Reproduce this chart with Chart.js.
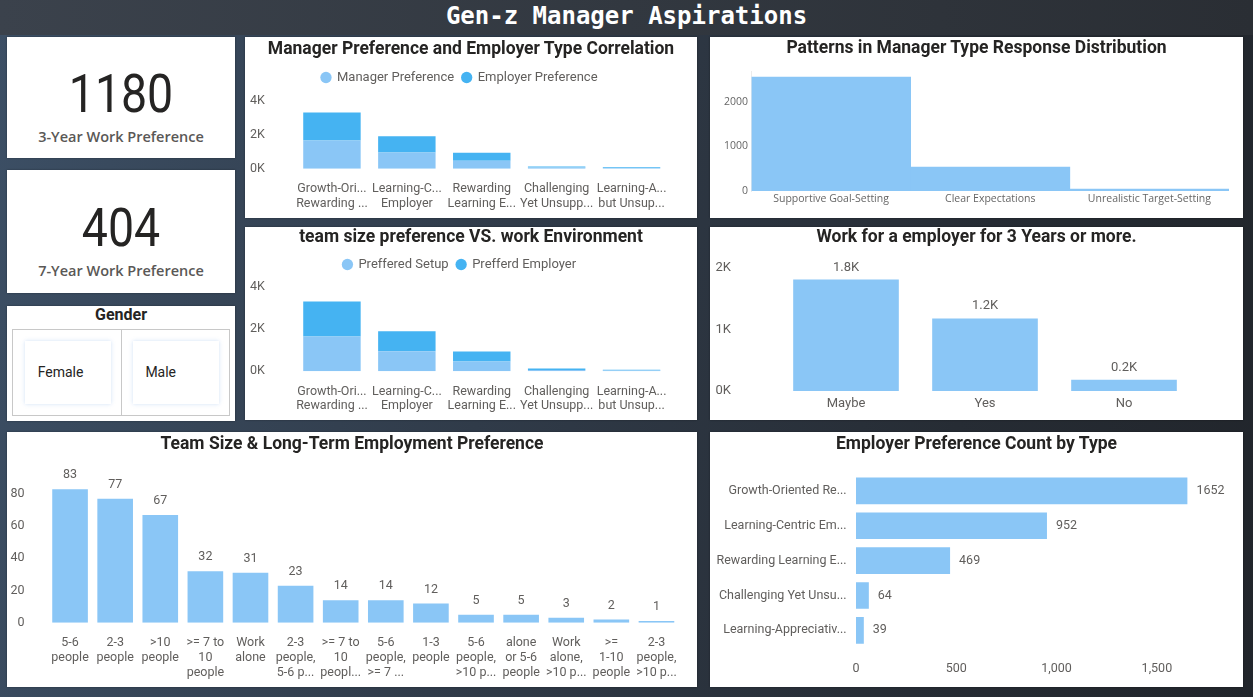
<!DOCTYPE html>
<html><head><meta charset="utf-8">
<script src="https://cdn.jsdelivr.net/npm/chart.js@4.4.1/dist/chart.umd.min.js"></script>
<style>
html,body{margin:0;padding:0;width:1253px;height:697px;overflow:hidden;}
body{position:relative;background:linear-gradient(100deg,#3c4f65 0%,#303b49 40%,#262c34 75%,#21252b 100%);font-family:Roboto,sans-serif;}
#hdr{position:absolute;left:0;top:0;width:1253px;height:35px;background:linear-gradient(90deg,#3b424c 0%,#323840 50%,#2a2e34 100%);}
#hdr div{position:absolute;left:0;top:0;width:1253px;text-align:center;font:bold 24px 'DejaVu Sans Mono',monospace;color:#fff;line-height:32px;}
.panel{position:absolute;background:#fff;box-shadow:0 0 2px rgba(0,0,0,.35);}
.ttl{position:absolute;left:0;width:100%;text-align:center;font-weight:bold;font-size:17.5px;font-family:Roboto,sans-serif;color:#252423;line-height:20px;white-space:nowrap;}
canvas{position:absolute;left:0;top:0;}
.num{position:absolute;left:0;width:100%;text-align:center;font-family:Roboto,sans-serif;font-size:54px;line-height:60px;color:#252423;transform:scaleX(0.86);}
.lbl{position:absolute;left:0;width:100%;text-align:center;font-family:'Open Sans',sans-serif;font-weight:600;font-size:14.5px;line-height:20px;color:#5a5856;}
.gbox{position:absolute;left:4.7px;top:23.3px;width:216px;height:85px;border:1px solid #c8c8c8;}
.gdiv{position:absolute;left:108px;top:0;width:1px;height:100%;background:#c8c8c8;}
.tile{position:absolute;top:11px;width:86px;height:63px;background:#fff;box-shadow:0 0 4px rgba(120,170,230,.35);}
.tile span{position:absolute;left:12.7px;top:21px;font-family:Roboto,sans-serif;font-size:14px;line-height:20px;color:#252423;}
</style></head>
<body>
<div id="hdr"><div>Gen-z Manager Aspirations</div></div>

<div class="panel" style="left:7px;top:37px;width:228px;height:121px;">
  <div class="num" style="top:26.7px;">1180</div>
  <div class="lbl" style="top:89.7px;">3-Year Work Preference</div>
</div>
<div class="panel" style="left:7px;top:170px;width:228px;height:123px;">
  <div class="num" style="top:28px;">404</div>
  <div class="lbl" style="top:90.7px;">7-Year Work Preference</div>
</div>
<div class="panel" style="left:7px;top:306px;width:228px;height:115px;">
  <div class="ttl" style="top:-1px;font-size:16px;">Gender</div>
  <div class="gbox">
    <div class="gdiv"></div>
    <div class="tile" style="left:12.3px;"><span>Female</span></div>
    <div class="tile" style="left:120px;"><span>Male</span></div>
  </div>
</div>

<div class="panel" style="left:245px;top:37px;width:452px;height:181px;">
  <canvas id="cA" width="452" height="181"></canvas>
  <div class="ttl" style="top:1px;">Manager Preference and Employer Type Correlation</div>
</div>
<div class="panel" style="left:245px;top:227px;width:452px;height:193px;">
  <canvas id="cB" width="452" height="193"></canvas>
  <div class="ttl" style="top:-1px;">team size preference VS. work Environment</div>
</div>
<div class="panel" style="left:710px;top:37px;width:533px;height:181px;">
  <canvas id="cC" width="533" height="181"></canvas>
  <div class="ttl" style="top:0.3px;">Patterns in Manager Type Response Distribution</div>
</div>
<div class="panel" style="left:710px;top:227px;width:533px;height:193px;">
  <canvas id="cD" width="533" height="193"></canvas>
  <div class="ttl" style="top:-1px;">Work for a employer for 3 Years or more.</div>
</div>
<div class="panel" style="left:7px;top:432px;width:690px;height:255px;">
  <canvas id="cE" width="690" height="255"></canvas>
  <div class="ttl" style="top:0.7px;">Team Size &amp; Long-Term Employment Preference</div>
</div>
<div class="panel" style="left:710px;top:432px;width:533px;height:255px;">
  <canvas id="cF" width="533" height="255"></canvas>
  <div class="ttl" style="top:0.7px;">Employer Preference Count by Type</div>
</div>

<script>
// ---------------- DATA ----------------
const employerTypeShort = [["Growth-Ori...","Rewarding ..."],["Learning-C...","Employer"],["Rewarding","Learning E..."],["Challenging","Yet Unsupp..."],["Learning-A...","but Unsup..."]];
const managerPreference = [1652, 952, 469, 64, 39];
const employerPreference = [1652, 952, 469, 64, 39];
const preferredSetup = [1652, 952, 469, 64, 39];
const preferredEmployer = [1652, 952, 469, 64, 39];

const managerTypes = ["Supportive Goal-Setting", "Clear Expectations", "Unrealistic Target-Setting"];
const managerTypeCounts = [2562, 539, 45];

const workAnswers = ["Maybe", "Yes", "No"];
const workCounts = [1812, 1180, 184];

const teamSizes = [["5-6","people"],["2-3","people"],[">10","people"],[">= 7 to","10","people"],["Work","alone"],["2-3","people,","5-6 p..."],[">= 7 to","10","peopl..."],["5-6","people,",">= 7 ..."],["1-3","people"],["5-6","people,",">10 p..."],["alone","or 5-6","people"],["Work","alone,",">10 p..."],[">=","1-10","people"],["2-3","people,",">10 p..."]];
const teamCounts = [83, 77, 67, 32, 31, 23, 14, 14, 12, 5, 5, 3, 2, 1];

const employerTypes = ["Growth-Oriented Re...", "Learning-Centric Em...", "Rewarding Learning E...", "Challenging Yet Unsu...", "Learning-Appreciativ..."];
const employerCounts = [1652, 952, 469, 64, 39];

const kTicks = [0, 2000, 4000];
const managerTypeTicks = [0, 1000, 2000];
const workTicks = [0, 1000, 2000];
const teamTicks = [0, 20, 40, 60, 80];
const employerCountTicks = [0, 500, 1000, 1500];

// ---------------- STYLE ----------------
const FONT = "Roboto, sans-serif";
const LIGHT = '#8ac6f6';
const DARK = '#45b3f2';
const TXT = '#605e5c';
Chart.defaults.font.family = FONT;
Chart.defaults.color = TXT;
Chart.defaults.animation = false;

function valueLabels(fmt, offset, size, horizontal) {
  return {
    id: 'valueLabels',
    afterDatasetsDraw(chart) {
      const ctx = chart.ctx;
      const meta = chart.getDatasetMeta(0);
      const data = chart.data.datasets[0].data;
      ctx.save();
      ctx.font = size + 'px ' + FONT;
      ctx.fillStyle = TXT;
      ctx.textBaseline = 'middle';
      meta.data.forEach((bar, i) => {
        const t = fmt(data[i]);
        if (horizontal) { ctx.textAlign = 'left'; ctx.fillText(t, bar.x + offset, bar.y); }
        else { ctx.textAlign = 'center'; ctx.fillText(t, bar.x, bar.y - offset); }
      });
      ctx.restore();
    }
  };
}
const fitW = w => (s => { s.width = w; });
const fitH = h => (s => { s.height = h; });
const useTicks = arr => (s => { s.ticks = arr.map(v => ({ value: v })); });
const noGrid = { display: false, drawTicks: false };
const noBorder = { display: false };

function stackedChart(id, labels, a, b, nameA, nameB, padTop, yMax, xH) {
  return new Chart(document.getElementById(id), {
    type: 'bar',
    data: { labels, datasets: [
      { label: nameA, data: a, backgroundColor: LIGHT, categoryPercentage: 1, barPercentage: 0.767 },
      { label: nameB, data: b, backgroundColor: DARK, categoryPercentage: 1, barPercentage: 0.767 }
    ]},
    options: {
      responsive: false, devicePixelRatio: 1,
      layout: { padding: { left: 5, right: 28, top: padTop, bottom: 0 } },
      plugins: {
        legend: { display: true, position: 'top', labels: { usePointStyle: true, pointStyle: 'circle', boxWidth: 9, boxHeight: 8, padding: 8, color: TXT, font: { size: 13, family: FONT } } },
        tooltip: { enabled: false }
      },
      scales: {
        x: { stacked: true, grid: noGrid, border: noBorder, afterFit: fitH(xH),
             ticks: { autoSkip: false, maxRotation: 0, minRotation: 0, padding: 13, font: { size: 12.5, lineHeight: 1.16 } } },
        y: { stacked: true, min: 0, max: yMax, grid: noGrid, border: noBorder, afterFit: fitW(44.5),
             afterBuildTicks: useTicks(kTicks),
             ticks: { crossAlign: 'far', padding: 0, font: { size: 12.5 }, callback: v => (v / 1000) + 'K' } }
      }
    }
  });
}

stackedChart('cA', employerTypeShort, managerPreference, employerPreference, 'Manager Preference', 'Employer Preference', 26, 4388, 49.3);
stackedChart('cB', employerTypeShort, preferredSetup, preferredEmployer, 'Preffered Setup', 'Prefferd Employer', 23, 4281, 48.7);

// C: manager type distribution
new Chart(document.getElementById('cC'), {
  type: 'bar',
  data: { labels: managerTypes, datasets: [{ data: managerTypeCounts, backgroundColor: LIGHT, categoryPercentage: 1, barPercentage: 1 }] },
  options: {
    responsive: false, devicePixelRatio: 1,
    layout: { padding: { left: 0, right: 14, top: 34.3, bottom: 0 } },
    plugins: { legend: { display: false }, tooltip: { enabled: false } },
    scales: {
      x: { grid: noGrid, border: noBorder, afterFit: fitH(27),
           ticks: { autoSkip: false, maxRotation: 0, padding: 1.5, color: '#666', font: { size: 10.5, family: "'Open Sans', sans-serif" } } },
      y: { min: 0, max: 2690, grid: noGrid, border: { display: true, color: '#ececec' }, afterFit: fitW(41.5),
           afterBuildTicks: useTicks(managerTypeTicks),
           ticks: { autoSkip: false, padding: 3.5, color: '#666', font: { size: 10.5, family: "'Open Sans', sans-serif" }, callback: v => String(v) } }
    }
  }
});

// D: work for employer 3 years
new Chart(document.getElementById('cD'), {
  type: 'bar',
  data: { labels: workAnswers, datasets: [{ data: workCounts, backgroundColor: LIGHT, categoryPercentage: 1, barPercentage: 0.76 }] },
  plugins: [valueLabels(v => (v / 1000).toFixed(1) + 'K', 12.3, 13, false)],
  options: {
    responsive: false, devicePixelRatio: 1,
    layout: { padding: { left: 5.5, right: 49.5, top: 41, bottom: 0 } },
    plugins: { legend: { display: false }, tooltip: { enabled: false } },
    scales: {
      x: { grid: noGrid, border: noBorder, afterFit: fitH(29),
           ticks: { autoSkip: false, maxRotation: 0, padding: 5, font: { size: 13 } } },
      y: { min: 0, max: 2000, grid: noGrid, border: noBorder, afterFit: fitW(61),
           afterBuildTicks: useTicks(workTicks),
           ticks: { autoSkip: false, crossAlign: 'far', padding: 0, font: { size: 13 }, callback: v => (v / 1000) + 'K' } }
    }
  }
});

// E: team size & long-term
new Chart(document.getElementById('cE'), {
  type: 'bar',
  data: { labels: teamSizes, datasets: [{ data: teamCounts, backgroundColor: LIGHT, categoryPercentage: 1, barPercentage: 0.79 }] },
  plugins: [valueLabels(v => String(v), 14, 12.5, false)],
  options: {
    responsive: false, devicePixelRatio: 1,
    layout: { padding: { left: 0, right: 18, top: 34, bottom: 0 } },
    plugins: { legend: { display: false }, tooltip: { enabled: false } },
    scales: {
      x: { grid: noGrid, border: noBorder, afterFit: fitH(64.3),
           ticks: { autoSkip: false, maxRotation: 0, minRotation: 0, padding: 12.5, font: { size: 12.5, lineHeight: 1.2 } } },
      y: { min: 0, max: 97.4, grid: noGrid, border: noBorder, afterFit: fitW(40.5),
           afterBuildTicks: useTicks(teamTicks),
           ticks: { autoSkip: false, padding: 23, font: { size: 12.5 } } }
    }
  }
});

// F: employer preference count
new Chart(document.getElementById('cF'), {
  type: 'bar',
  data: { labels: employerTypes, datasets: [{ data: employerCounts, backgroundColor: LIGHT, categoryPercentage: 1, barPercentage: 0.765 }] },
  plugins: [valueLabels(v => String(v), 9, 12.5, true)],
  options: {
    indexAxis: 'y',
    responsive: false, devicePixelRatio: 1,
    layout: { padding: { left: 0, right: 15.9, top: 41.5, bottom: 0 } },
    plugins: { legend: { display: false }, tooltip: { enabled: false } },
    scales: {
      x: { min: 0, max: 1850, grid: noGrid, border: noBorder, afterFit: fitH(39.2),
           afterBuildTicks: useTicks(employerCountTicks),
           ticks: { autoSkip: false, padding: 14, font: { size: 12.5 }, callback: v => v.toLocaleString('en-US') } },
      y: { grid: noGrid, border: noBorder, afterFit: fitW(146),
           ticks: { autoSkip: false, padding: 9.4, font: { size: 12.5 } } }
    }
  }
});
</script>
</body></html>
